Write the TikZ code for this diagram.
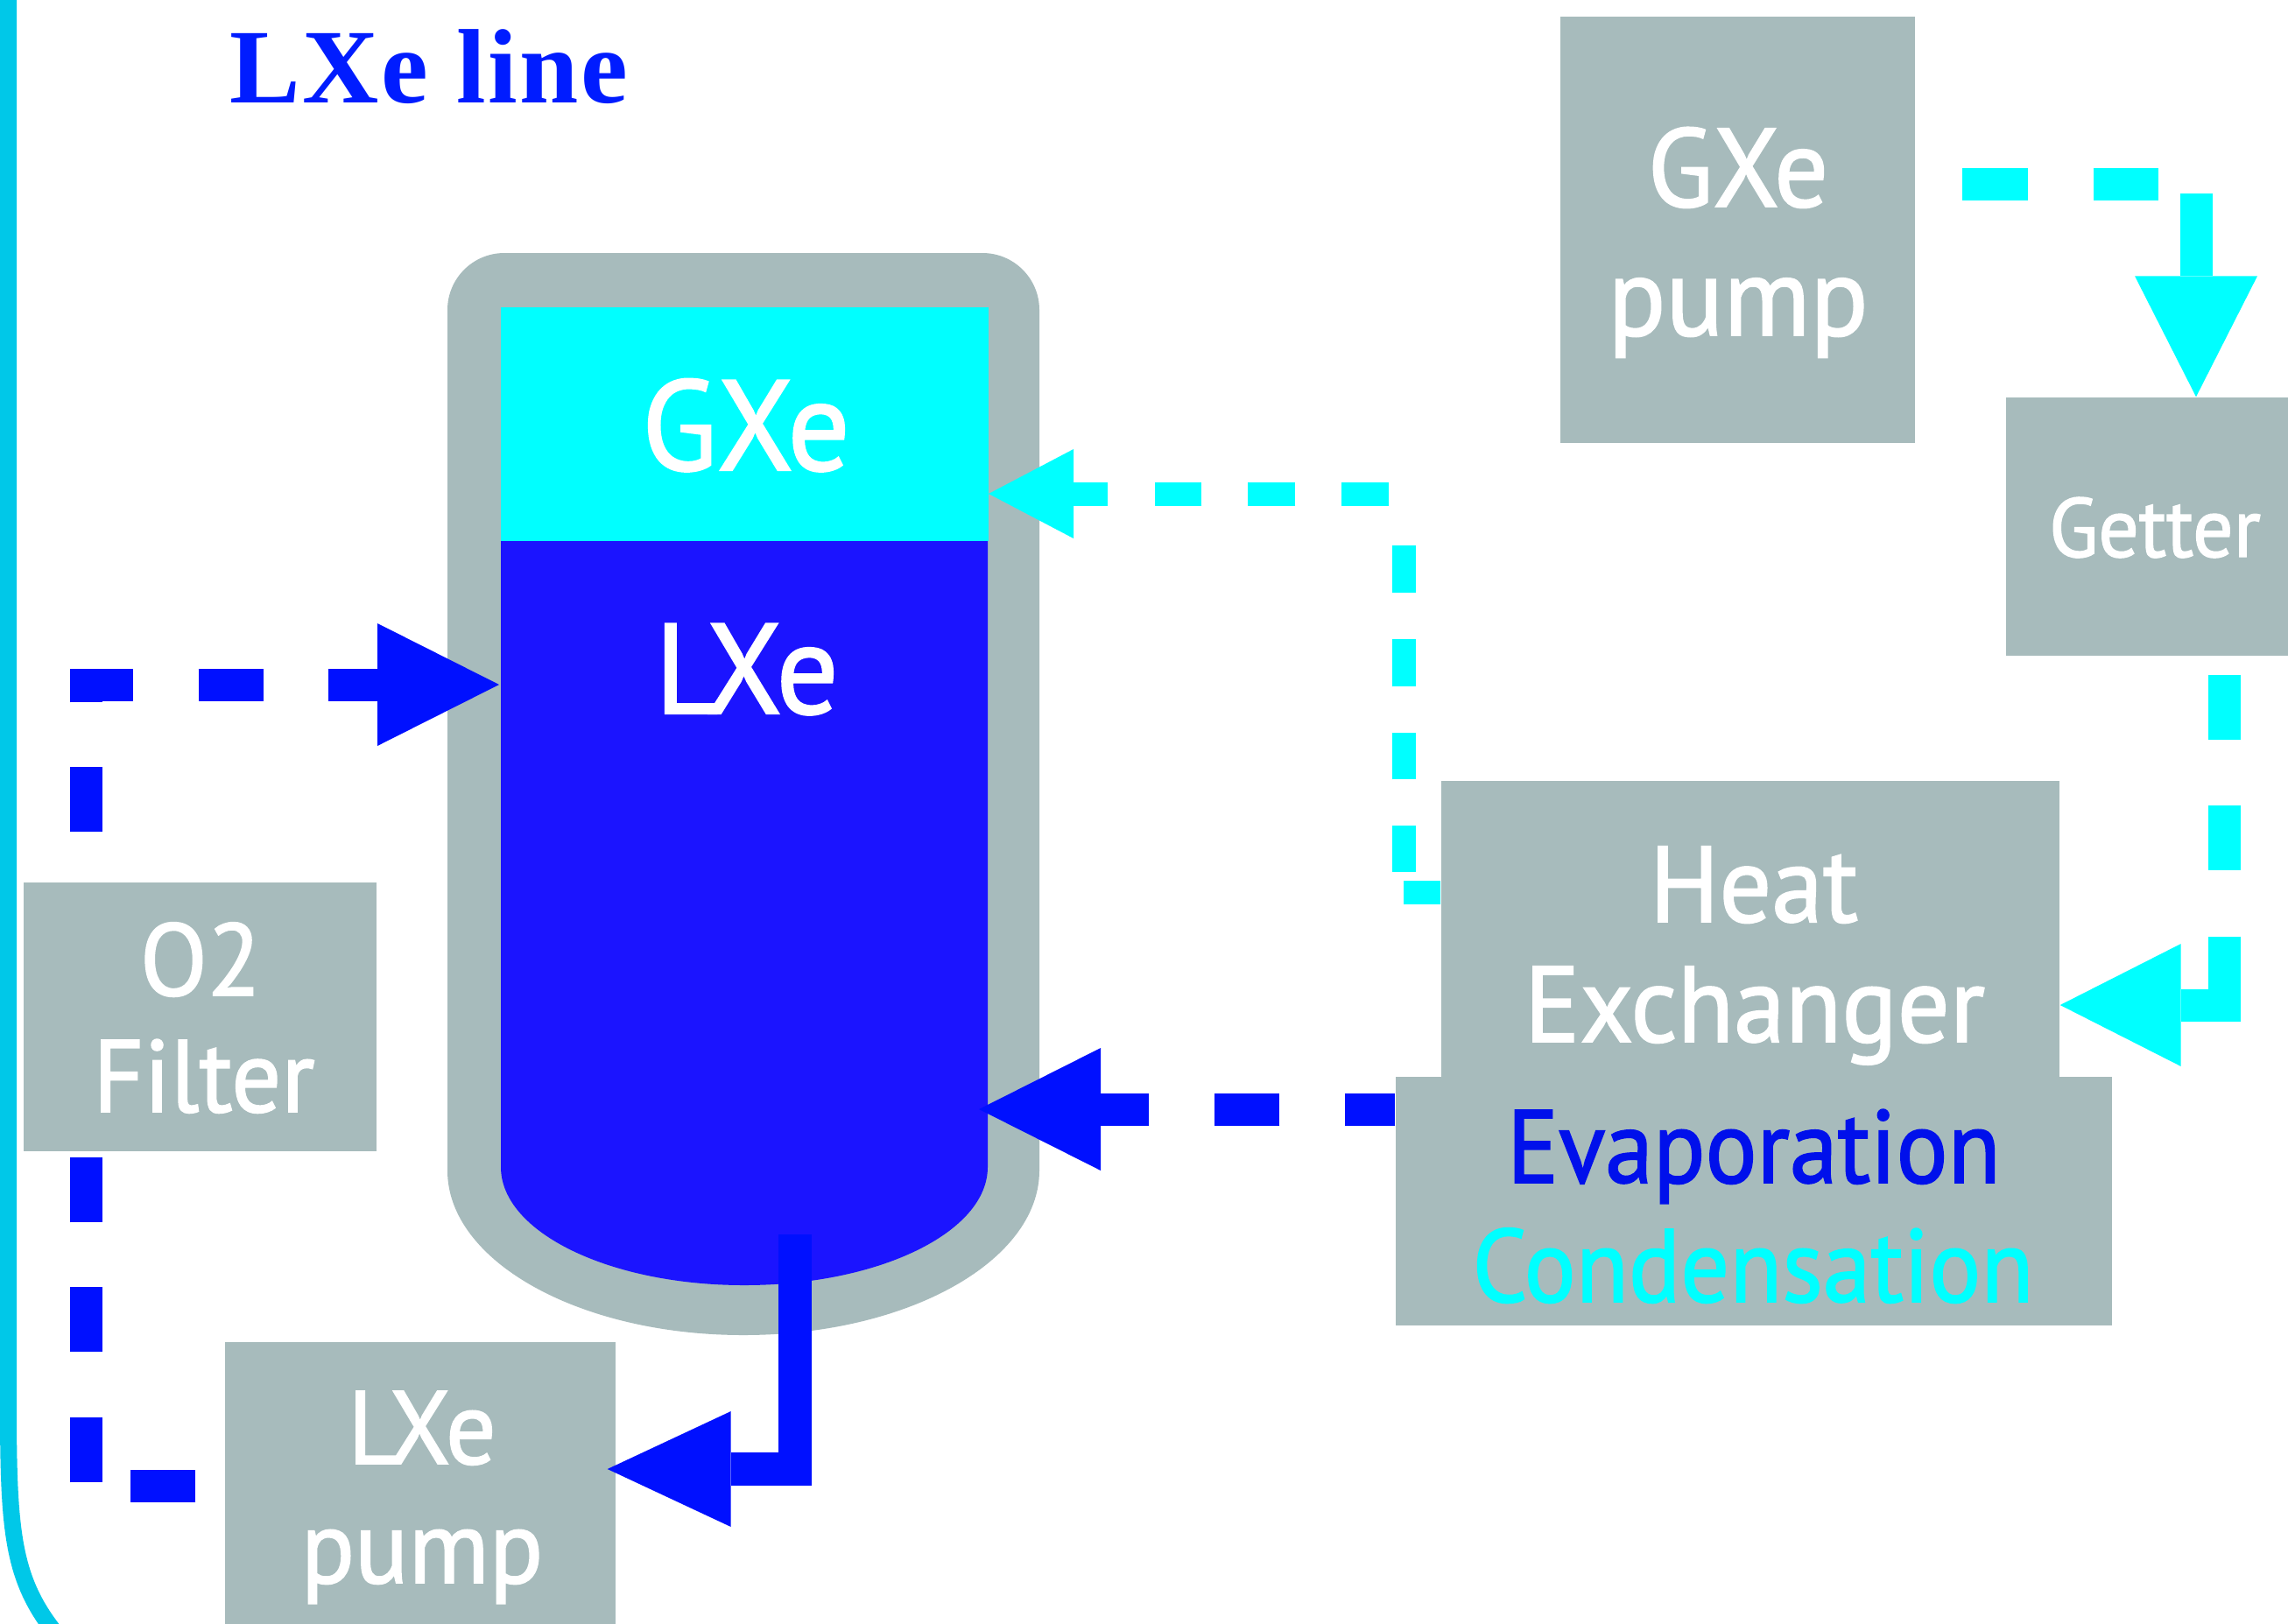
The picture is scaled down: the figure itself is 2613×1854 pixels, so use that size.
\documentclass[tikz,border=0pt]{standalone}
\usepackage{fontspec}
\setmainfont{Liberation Serif}
\newfontfamily\titlef[LetterSpace=2]{Liberation Serif Bold}
\newfontfamily\dinf[FakeStretch=0.96,FakeBold=1.5]{PT Sans}
\newfontfamily\dinn[FakeStretch=0.93,FakeBold=1.5]{PT Sans}
\usetikzlibrary{arrows.meta,fit,calc}
\definecolor{boxgray}{RGB}{167,187,188}
\definecolor{xcyan}{RGB}{0,255,255}
\definecolor{abl}{RGB}{0,16,255}
\definecolor{lxefill}{RGB}{27,20,255}
\definecolor{bordercol}{RGB}{0,200,232}
\definecolor{titleblue}{RGB}{0,28,255}
\definecolor{evapblue}{RGB}{0,16,235}
\pgfdeclarelayer{back}
\pgfdeclarelayer{conn}
\pgfsetlayers{back,conn,main}
\tikzset{
  box/.style={rectangle, fill=boxgray, draw=none, inner sep=0pt},
  lbl/.style={anchor=base, inner sep=0pt, text=white},
  thickblue/.style={draw=abl, line width=3.7mm, -{Triangle[length=13.9mm,width=14mm,line width=0pt]}},
  thickcyan/.style={draw=xcyan, line width=3.7mm, -{Triangle[length=13.8mm,width=14mm,line width=0pt]}},
  thincyan/.style={draw=xcyan, line width=2.7mm, -{Triangle[length=9.7mm,width=10.2mm,line width=0pt]}},
}
\begin{document}
\begin{tikzpicture}[x=0.1mm,y=-0.1mm]
\useasboundingbox (0,0) rectangle (2613,1854);

% boxes
\node[box, fit={(1782,19) (2187,506)}] (gxepump) {};
\node[box, fit={(2291,454) (2640,749)}] (getter) {};
\node[box, fit={(1646,892) (2352,1231)}] (hx) {};
\node[box, fit={(1594,1230) (2412,1514)}] (evap) {};
\node[box, fit={(27,1008) (430,1315)}] (otwo) {};
\node[box, fit={(257,1533) (703,1880)}] (lxepump) {};

% connection coordinates
\coordinate (acorner) at (98,1697);
\coordinate (lxinA) at (570,782);
\coordinate (lxinB) at (1118,1267);
\coordinate (cout) at (908,1410);
\coordinate (ccorner) at (908,1678);
\coordinate (getdn) at (2540,1148);
\coordinate (gcorner) at (2508,210);
\coordinate (hxc) at (1603,1019);
\coordinate (gxin) at (1129,564);

\begin{pgfonlayer}{back}
  % left border
  \draw[bordercol, line width=1.9mm] (9.5,-20) -- (9.5,1600) .. controls (9.5,1765) and (14,1815) .. (85,1890);
  % vessel
  \fill[boxgray] (511,1337) -- (511,354) arc[start angle=180,end angle=270,radius=65]
     -- (1122,289) arc[start angle=270,end angle=360,radius=65]
     -- (1187,1337) arc[start angle=0,end angle=180,x radius=338,y radius=188] -- cycle;
  \fill[xcyan] (572,351) rectangle (1129,618);
  \fill[lxefill] (572,618) -- (1128,618) -- (1128,1333) arc[start angle=0,end angle=180,x radius=278,y radius=135] -- cycle;
\end{pgfonlayer}

\begin{pgfonlayer}{conn}
  % O2 filter loop
  \draw[thickblue, dash pattern=on 0mm off 3.3mm on 7.4mm off 5.5mm on 7.4mm off 7.5mm on 7.4mm off 7.4mm on 7.4mm off 7.5mm on 7.4mm off 7.4mm on 7.4mm off 7.5mm on 7.4mm off 7.4mm on 7.4mm off 7.5mm on 7.4mm off 7.4mm on 30mm off 1mm]
    (lxepump.west |- acorner) -- (acorner) -- (acorner |- lxinA) -- (lxinA);
  % evaporation to LXe
  \draw[thickblue, dash pattern=on 7.4mm off 7.5mm, dash phase=1.7mm]
    (evap.west |- lxinB) -- (lxinB);
  % GXe pump to getter
  \draw[thickcyan, dash pattern=on 0mm off 5.3mm on 7.5mm off 7.5mm on 7.4mm off 5.4mm on 30mm off 1mm]
    (gxepump.east |- gcorner) -- (gcorner) -- (gcorner |- getter.north);
  % getter to heat exchanger
  \draw[thickcyan, dash pattern=on 0mm off 2.1mm on 7.4mm off 7.5mm on 7.4mm off 7.6mm on 30mm off 1mm]
    (getdn |- getter.south) -- (getdn) -- (getdn -| hx.east);
  % heat exchanger to GXe
  \draw[thincyan, dash pattern=on 4.2mm off 2.3mm on 5.3mm off 5.3mm on 5.3mm off 5.3mm on 5.4mm off 5.3mm on 5.4mm off 7.6mm on 5.4mm off 5.3mm on 5.4mm off 5.3mm on 5.3mm off 5.4mm on 10mm off 1mm]
    (hxc -| hx.west) -- (hxc) -- (hxc |- gxin) -- (gxin);
\end{pgfonlayer}

% solid LXe outlet to pump
\draw[draw=abl, line width=3.8mm, -{Triangle[length=14.1mm,width=13.2mm,line width=0pt]}]
  (cout) -- (ccorner) -- ($(lxepump.east |- ccorner)+(-10,0)$);

% title
\node[anchor=base west, inner sep=0pt, text=titleblue, font=\titlef\fontsize{34.4}{34.4}\selectfont] (title) at (262,117) {LXe line};

% texts
\node[lbl, font=\dinf\fontsize{41.7}{41.7}\selectfont] (gxet) at (852,537) {GXe};
\node[lbl, font=\dinf\fontsize{41.7}{41.7}\selectfont] (lxet) at (853,815) {LXe};
\node[lbl, font=\dinf\fontsize{36.2}{36.2}\selectfont] (gpa) at (1985,236) {GXe};
\node[lbl, font=\dinf\fontsize{36.2}{36.2}\selectfont] (gpb) at (1985,383) {pump};
\node[lbl, font=\dinf\fontsize{27.2}{27.2}\selectfont] (gett) at (2461,636) {Getter};
\node[lbl, font=\dinf\fontsize{35}{35}\selectfont] (hxa) at (2003,1053) {Heat};
\node[lbl, font=\dinf\fontsize{35}{35}\selectfont] (hxb) at (2004,1190) {Exchanger};
\node[lbl, text=evapblue, font=\dinn\fontsize{33.7}{33.7}\selectfont] (eva) at (2003,1351) {Evaporation};
\node[lbl, text=xcyan, font=\dinn\fontsize{33.7}{33.7}\selectfont] (cond) at (2002,1487) {Condensation};
\node[lbl, font=\dinf\fontsize{33.3}{33.3}\selectfont] (ota) at (229,1137) {O2};
\node[lbl, font=\dinf\fontsize{33.3}{33.3}\selectfont] (otb) at (233,1270) {Filter};
\node[lbl, font=\dinf\fontsize{33.7}{33.7}\selectfont] (lpa) at (482,1672) {LXe};
\node[lbl, font=\dinf\fontsize{33.7}{33.7}\selectfont] (lpb) at (482,1808) {pump};
\end{tikzpicture}
\end{document}
